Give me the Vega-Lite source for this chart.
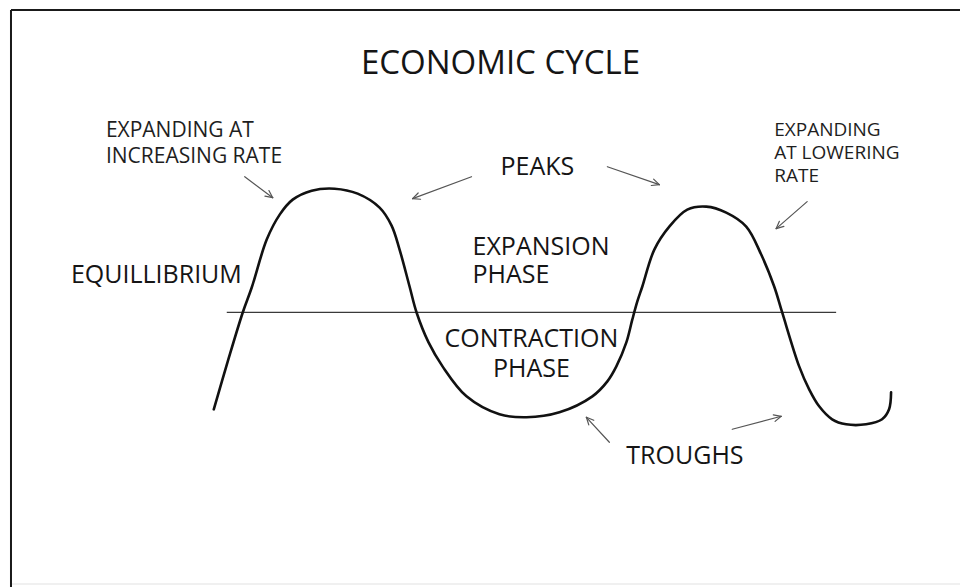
{
  "$schema": "https://vega.github.io/schema/vega-lite/v6.json",
  "width": 961,
  "height": 588,
  "padding": 0,
  "autosize": {"type": "fit", "contains": "padding"},
  "background": "white",
  "config": {"view": {"stroke": null}},
  "datasets": {
    "curve": [
      {"i": 1, "x": 214, "y": 410}, {"i": 2, "x": 228, "y": 362}, {"i": 3, "x": 243, "y": 313},
      {"i": 4, "x": 252, "y": 288}, {"i": 5, "x": 267, "y": 240}, {"i": 6, "x": 280, "y": 215},
      {"i": 7, "x": 293, "y": 200}, {"i": 8, "x": 312, "y": 191}, {"i": 9, "x": 335, "y": 189},
      {"i": 10, "x": 358, "y": 194}, {"i": 11, "x": 380, "y": 208}, {"i": 12, "x": 392, "y": 226},
      {"i": 13, "x": 400, "y": 250}, {"i": 14, "x": 410, "y": 287}, {"i": 15, "x": 417, "y": 313},
      {"i": 16, "x": 429, "y": 343}, {"i": 17, "x": 443, "y": 367}, {"i": 18, "x": 467, "y": 397},
      {"i": 19, "x": 500, "y": 415}, {"i": 20, "x": 527, "y": 418}, {"i": 21, "x": 560, "y": 413},
      {"i": 22, "x": 593, "y": 397}, {"i": 23, "x": 608, "y": 382}, {"i": 24, "x": 617, "y": 367},
      {"i": 25, "x": 627, "y": 343}, {"i": 26, "x": 633, "y": 320}, {"i": 27, "x": 638, "y": 302},
      {"i": 28, "x": 643, "y": 287}, {"i": 29, "x": 655, "y": 250}, {"i": 30, "x": 670, "y": 227},
      {"i": 31, "x": 688, "y": 210}, {"i": 32, "x": 707, "y": 207}, {"i": 33, "x": 727, "y": 213},
      {"i": 34, "x": 747, "y": 227}, {"i": 35, "x": 762, "y": 255}, {"i": 36, "x": 775, "y": 287},
      {"i": 37, "x": 783, "y": 313}, {"i": 38, "x": 800, "y": 367}, {"i": 39, "x": 810, "y": 390},
      {"i": 40, "x": 820, "y": 407}, {"i": 41, "x": 833, "y": 420}, {"i": 42, "x": 847, "y": 425},
      {"i": 43, "x": 867, "y": 425}, {"i": 44, "x": 883, "y": 420}, {"i": 45, "x": 890, "y": 410},
      {"i": 46, "x": 892, "y": 393}
    ],
    "border": [
      {"x": 11, "y": 10, "x2": 961, "y2": 10},
      {"x": 11, "y": 10, "x2": 11, "y2": 588}
    ],
    "bottom": [
      {"x": 11, "y": 585, "x2": 961, "y2": 585}
    ],
    "equilibrium": [
      {"x": 227, "y": 313, "x2": 837, "y2": 313}
    ],
    "arrows": [
      {"x": 245, "y": 177, "x2": 273, "y2": 198},
      {"x": 273, "y": 198, "x2": 269.2, "y2": 190.9},
      {"x": 273, "y": 198, "x2": 265.2, "y2": 196.4},
      {"x": 472, "y": 177, "x2": 413, "y2": 199},
      {"x": 413, "y": 199, "x2": 421.0, "y2": 199.6},
      {"x": 413, "y": 199, "x2": 418.6, "y2": 193.3},
      {"x": 608, "y": 167, "x2": 660, "y2": 185},
      {"x": 660, "y": 185, "x2": 654.3, "y2": 179.4},
      {"x": 660, "y": 185, "x2": 652.0, "y2": 185.8},
      {"x": 808, "y": 202, "x2": 777, "y2": 229},
      {"x": 777, "y": 229, "x2": 784.7, "y2": 226.8},
      {"x": 777, "y": 229, "x2": 780.2, "y2": 221.7},
      {"x": 610, "y": 443, "x2": 587, "y2": 418},
      {"x": 587, "y": 418, "x2": 589.4, "y2": 425.6},
      {"x": 587, "y": 418, "x2": 594.4, "y2": 421.0},
      {"x": 733, "y": 430, "x2": 782, "y2": 417},
      {"x": 782, "y": 417, "x2": 774.1, "y2": 415.6},
      {"x": 782, "y": 417, "x2": 775.9, "y2": 422.1}
    ],
    "title": [
      {"x": 501, "y": 74, "label": "ECONOMIC CYCLE"}
    ],
    "midSingle": [
      {"x": 501, "y": 175, "label": "PEAKS"},
      {"x": 71, "y": 283, "label": "EQUILLIBRIUM"},
      {"x": 627, "y": 465, "label": "TROUGHS"}
    ],
    "expansion": [
      {"x": 473, "y": 255, "label": "EXPANSION|PHASE"}
    ],
    "contraction": [
      {"x": 532, "y": 348, "label": "CONTRACTION|PHASE"}
    ],
    "smallLeft": [
      {"x": 106, "y": 137, "label": "EXPANDING AT|INCREASING RATE"}
    ],
    "smallRight": [
      {"x": 775, "y": 136, "label": "EXPANDING|AT LOWERING|RATE"}
    ]
  },
  "layer": [
    {
      "data": {"name": "bottom"},
      "mark": {"type": "rule", "color": "#f0f0f0", "strokeWidth": 2},
      "encoding": {
        "x": {"field": "x", "type": "quantitative", "scale": {"domain": [0, 961], "nice": false, "zero": false}, "axis": null},
        "y": {"field": "y", "type": "quantitative", "scale": {"domain": [0, 588], "nice": false, "zero": false, "reverse": true}, "axis": null},
        "x2": {"field": "x2"},
        "y2": {"field": "y2"}
      }
    },
    {
      "data": {"name": "border"},
      "mark": {"type": "rule", "color": "#1a1a1a", "strokeWidth": 2},
      "encoding": {
        "x": {"field": "x", "type": "quantitative"},
        "y": {"field": "y", "type": "quantitative"},
        "x2": {"field": "x2"},
        "y2": {"field": "y2"}
      }
    },
    {
      "data": {"name": "equilibrium"},
      "mark": {"type": "rule", "color": "#3a3a3a", "strokeWidth": 1.2},
      "encoding": {
        "x": {"field": "x", "type": "quantitative"},
        "y": {"field": "y", "type": "quantitative"},
        "x2": {"field": "x2"},
        "y2": {"field": "y2"}
      }
    },
    {
      "data": {"name": "arrows"},
      "mark": {"type": "rule", "color": "#555555", "strokeWidth": 1.2, "strokeCap": "round"},
      "encoding": {
        "x": {"field": "x", "type": "quantitative"},
        "y": {"field": "y", "type": "quantitative"},
        "x2": {"field": "x2"},
        "y2": {"field": "y2"}
      }
    },
    {
      "data": {"name": "curve"},
      "mark": {"type": "line", "color": "#111111", "strokeWidth": 2.6, "interpolate": "catmull-rom", "strokeCap": "round"},
      "encoding": {
        "x": {"field": "x", "type": "quantitative"},
        "y": {"field": "y", "type": "quantitative"},
        "order": {"field": "i", "type": "quantitative"}
      }
    },
    {
      "data": {"name": "title"},
      "mark": {"type": "text", "font": "Open Sans", "fontSize": 33, "align": "center", "baseline": "alphabetic", "color": "#151515"},
      "encoding": {
        "x": {"field": "x", "type": "quantitative"},
        "y": {"field": "y", "type": "quantitative"},
        "text": {"field": "label"}
      }
    },
    {
      "data": {"name": "midSingle"},
      "mark": {"type": "text", "font": "Open Sans", "fontSize": 25, "align": "left", "baseline": "alphabetic", "color": "#151515"},
      "encoding": {
        "x": {"field": "x", "type": "quantitative"},
        "y": {"field": "y", "type": "quantitative"},
        "text": {"field": "label"}
      }
    },
    {
      "data": {"name": "expansion"},
      "mark": {"type": "text", "font": "Open Sans", "fontSize": 25, "align": "left", "baseline": "alphabetic", "lineBreak": "|", "lineHeight": 28, "color": "#151515"},
      "encoding": {
        "x": {"field": "x", "type": "quantitative"},
        "y": {"field": "y", "type": "quantitative"},
        "text": {"field": "label"}
      }
    },
    {
      "data": {"name": "contraction"},
      "mark": {"type": "text", "font": "Open Sans", "fontSize": 25, "align": "center", "baseline": "alphabetic", "lineBreak": "|", "lineHeight": 30, "color": "#151515"},
      "encoding": {
        "x": {"field": "x", "type": "quantitative"},
        "y": {"field": "y", "type": "quantitative"},
        "text": {"field": "label"}
      }
    },
    {
      "data": {"name": "smallLeft"},
      "mark": {"type": "text", "font": "Open Sans", "fontSize": 21, "align": "left", "baseline": "alphabetic", "lineBreak": "|", "lineHeight": 26, "color": "#1e1e1e"},
      "encoding": {
        "x": {"field": "x", "type": "quantitative"},
        "y": {"field": "y", "type": "quantitative"},
        "text": {"field": "label"}
      }
    },
    {
      "data": {"name": "smallRight"},
      "mark": {"type": "text", "font": "Open Sans", "fontSize": 19, "align": "left", "baseline": "alphabetic", "lineBreak": "|", "lineHeight": 23, "color": "#1e1e1e"},
      "encoding": {
        "x": {"field": "x", "type": "quantitative"},
        "y": {"field": "y", "type": "quantitative"},
        "text": {"field": "label"}
      }
    }
  ]
}
